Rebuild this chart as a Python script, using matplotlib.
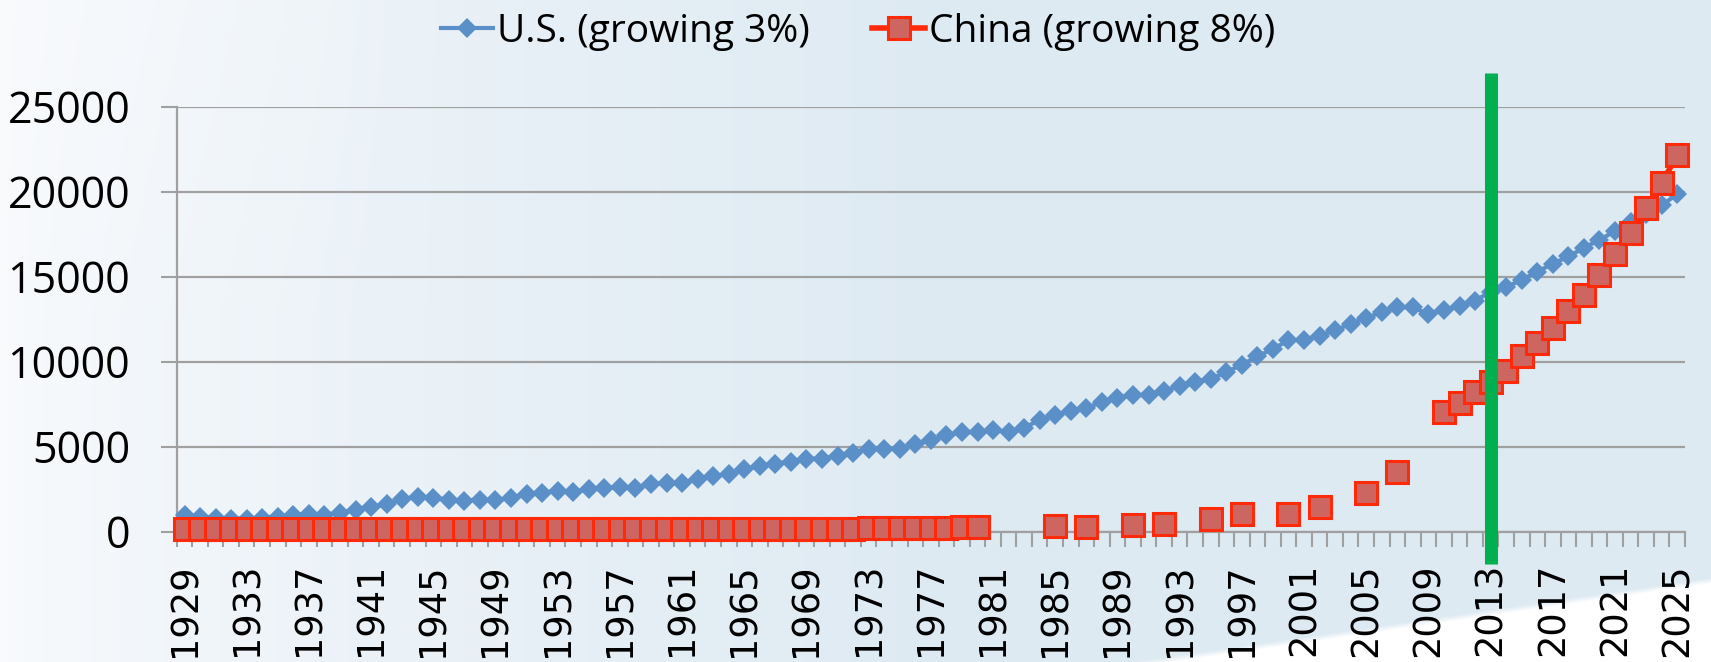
import matplotlib

matplotlib.use("Agg")
import matplotlib.pyplot as plt  # noqa: E402
import numpy as np

# GDP per capita, one value per year
YEARS = list(range(1929, 2026))

US_GDP = [
    1010, 895, 835, 775, 775, 835, 895, 990, 1070, 990, 1130,          # 1929-1939
    1290, 1425, 1640, 1915, 2070, 2010, 1875, 1835, 1895, 1855,        # 1940-1949
    1990, 2190, 2285, 2420, 2325, 2500, 2580, 2620, 2580, 2835,        # 1950-1959
    2840, 2880, 3110, 3250, 3420, 3660, 3890, 4010, 4130, 4300,        # 1960-1969
    4300, 4480, 4640, 4870, 4870, 4870, 5170, 5370, 5660, 5870,        # 1970-1979
    5840, 5990, 5860, 6110, 6580, 6870, 7110, 7290, 7620, 7870,        # 1980-1989
    8050, 8050, 8300, 8550, 8800, 8990, 9380, 9830, 10310, 10760,      # 1990-1999
    11250, 11300, 11540, 11840, 12230, 12580, 12910, 13210, 13210, 12780,  # 2000-2009
    13050, 13300, 13600, 14100, 14380, 14820, 15300, 15760, 16190, 16700,  # 2010-2019
    17170, 17680, 18190, 18700, 19190, 19870,                          # 2020-2025
]

# None = no figure reported for that year
CHINA_GDP = [
    150, 150, 150, 150, 150, 150, 150, 150, 150, 150, 150,             # 1929-1939
    150, 150, 150, 150, 150, 150, 150, 150, 150, 150,                  # 1940-1949
    150, 150, 150, 150, 150, 150, 150, 150, 150, 150,                  # 1950-1959
    155, 160, 160, 160, 160, 160, 160, 160, 160, 160,                  # 1960-1969
    160, 165, 170, 240, 240, 240, 240, 240, 245, 300,                  # 1970-1979
    300, None, None, None, None, 320, None, 270, None, None,           # 1980-1989
    390, None, 450, None, None, 750, None, 1030, None, None,           # 1990-1999
    1060, None, 1470, None, None, 2280, None, 3500, None, None,        # 2000-2009
    7040, 7550, 8190, 8780, 9460, 10310, 11130, 11980, 12970, 13950,   # 2010-2019
    15090, 16320, 17590, 19020, 20500, 22150,                          # 2020-2025
]

US_LABEL = "U.S. (growing 3%)"
CHINA_LABEL = "China (growing 8%)"
MARK_YEAR = 2013
Y_TICKS = [0, 5000, 10000, 15000, 20000, 25000]
X_LABEL_YEARS = YEARS[::4]

US_BLUE = "#5B8FC8"
CN_FILL = "#CD6660"
CN_EDGE = "#FF2A0A"
MARK_GREEN = "#00B050"
AXIS_GRAY = "#A0A0A0"

W, H = 1711, 662


def slide_background() -> np.ndarray:
    """Soft white-to-pale-blue backdrop with a white swoosh along the bottom."""
    yy, xx = np.mgrid[0:H, 0:W].astype(float)
    t = np.clip(xx / 950.0, 0, 1) ** 0.75
    t *= 1 - 0.5 * np.clip(1 - yy / 320.0, 0, 1) * np.clip(1 - xx / 450.0, 0, 1)
    left = np.array([0.975, 0.982, 0.992])
    right = np.array([0.870, 0.918, 0.950])
    bg = left + (right - left) * t[..., None]
    edge = 662 - 0.146 * (xx - 1150)
    swoosh = np.clip((yy - edge) / 6.0 + 0.5, 0, 1)[..., None]
    return bg * (1 - swoosh) + swoosh


plt.rcParams["font.family"] = ["Open Sans", "DejaVu Sans"]

fig = plt.figure(figsize=(W / 100, H / 100), dpi=100)
fig.figimage(slide_background(), xo=0, yo=0, origin="upper", zorder=-10)

ax = fig.add_axes([0.1033, 0.1968, 0.8815, 0.642])
ax.patch.set_visible(False)

us = np.array(US_GDP, dtype=float)
cn = np.array([np.nan if v is None else v for v in CHINA_GDP], dtype=float)

us_line, = ax.plot(
    YEARS, us, color=US_BLUE, lw=3, marker="D", ms=10.5, mew=0,
    label=US_LABEL, clip_on=False, zorder=3,
)
cn_line, = ax.plot(
    YEARS, cn, color=CN_EDGE, lw=4, marker="s", ms=15.5, mfc=CN_FILL,
    mec=CN_EDGE, mew=2.2, label=CHINA_LABEL, clip_on=False, zorder=4,
)

ax.axvline(MARK_YEAR, ymin=-0.076, ymax=1.08, color=MARK_GREEN, lw=9.4,
           clip_on=False, zorder=6, solid_capstyle="butt")

ax.set_xlim(YEARS[0] - 0.5, YEARS[-1] + 0.5)
ax.set_ylim(Y_TICKS[0], Y_TICKS[-1])
ax.set_yticks(Y_TICKS)
ax.set_yticklabels([str(v) for v in Y_TICKS], fontsize=31)

ax.set_xticks(X_LABEL_YEARS)
ax.set_xticklabels([str(y) for y in X_LABEL_YEARS], rotation=90,
                   fontsize=26.5, family="DejaVu Sans")
ax.set_xticks(np.arange(YEARS[0] - 0.5, YEARS[-1] + 1), minor=True)

ax.tick_params(axis="x", which="major", length=0, pad=22.5)
ax.tick_params(axis="x", which="minor", length=10.8, width=1.5,
               color=AXIS_GRAY, direction="out")
ax.tick_params(axis="y", length=11.5, width=1.5, color=AXIS_GRAY, pad=22)

ax.yaxis.grid(True, color=AXIS_GRAY, lw=1.6)
ax.set_axisbelow(True)
for side in ("top", "right"):
    ax.spines[side].set_visible(False)
for side in ("left", "bottom"):
    ax.spines[side].set_color(AXIS_GRAY)
    ax.spines[side].set_linewidth(1.6)

fig.legend(
    handles=[us_line, cn_line], loc="center", bbox_to_anchor=(0.5015, 0.952),
    ncol=2, frameon=False, prop={"family": "Open Sans", "size": 28},
    handlelength=1.36, handletextpad=0.1, columnspacing=1.6,
)

fig.savefig("out.png", dpi=100)
plt.close(fig)
